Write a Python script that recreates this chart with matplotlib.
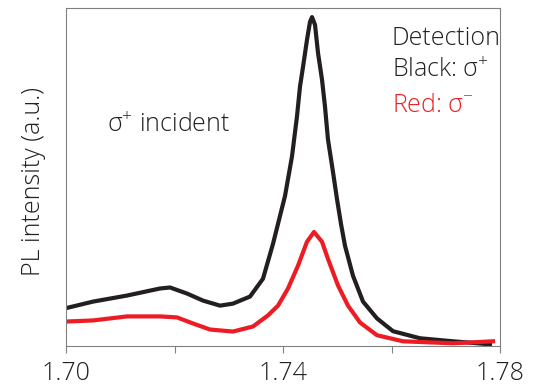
import matplotlib
matplotlib.use("Agg")
import matplotlib.pyplot as plt

plt.rcParams['font.family'] = ['Open Sans', 'DejaVu Sans']
plt.rcParams['font.weight'] = 'light'
plt.rcParams['mathtext.fontset'] = 'custom'
plt.rcParams['mathtext.rm'] = 'Open Sans:light'

# photon energy (eV) and PL intensity (a.u.)
black_e = [1.70037, 1.70498, 1.71124, 1.71733, 1.71917, 1.72230, 1.72525, 1.72839,
           1.73078, 1.73392, 1.73631, 1.73816, 1.74037, 1.74166, 1.74258, 1.74313,
           1.74369, 1.74442, 1.74498, 1.74535, 1.74590, 1.74645, 1.74719, 1.74774,
           1.74829, 1.74922, 1.74995, 1.75069, 1.75143, 1.75290, 1.75475, 1.75733,
           1.76028, 1.76525, 1.77133, 1.77815]
black_i = [0.109, 0.127, 0.145, 0.166, 0.169, 0.151, 0.130, 0.115,
           0.121, 0.142, 0.195, 0.299, 0.441, 0.559, 0.678, 0.766,
           0.825, 0.905, 0.959, 0.973, 0.950, 0.867, 0.787, 0.707,
           0.609, 0.512, 0.432, 0.358, 0.293, 0.204, 0.127, 0.077,
           0.039, 0.018, 0.009, 0.000]

red_e = [1.70037, 1.70498, 1.71124, 1.71733, 1.72046, 1.72341, 1.72654, 1.73078,
         1.73447, 1.73723, 1.73908, 1.74092, 1.74277, 1.74442, 1.74571, 1.74719,
         1.74829, 1.75014, 1.75198, 1.75327, 1.75419, 1.75733, 1.76212, 1.77133,
         1.77871]
red_i = [0.068, 0.071, 0.083, 0.083, 0.080, 0.062, 0.044, 0.038,
         0.053, 0.086, 0.115, 0.166, 0.234, 0.305, 0.334, 0.305,
         0.254, 0.175, 0.115, 0.086, 0.065, 0.027, 0.009, 0.003,
         0.009]

xticks = [1.70, 1.72, 1.74, 1.76, 1.78]
xticklabels = ['1.70', '', '1.74', '', '1.78']

dark = '#231f20'
red = '#ed1c24'

fig = plt.figure(figsize=(5.39, 3.88), dpi=100)
ax = fig.add_axes([66/539, 42/388, 434/539, 338/388])

ax.plot(black_e, black_i, color=dark, lw=3, solid_joinstyle='round')
ax.plot(red_e, red_i, color=red, lw=3, solid_joinstyle='round')

ax.set_xlim(1.70, 1.78)
ax.set_ylim(-0.005, 1.0)
ax.set_xticks(xticks)
ax.set_xticklabels(xticklabels)
ax.set_yticks([])
ax.tick_params(axis='x', direction='out', length=5, width=0.8, color='#808080',
               labelsize=18, labelcolor=dark, pad=6)
for s in ax.spines.values():
    s.set_color('#808080')
    s.set_linewidth(0.8)

fig.text(34/539, 0.533, 'PL intensity (a.u.)', rotation=90, ha='center', va='center',
         fontsize=18, color=dark)

ax.text(0.0945, 0.633, r'$\mathregular{σ^{+}}$ incident', transform=ax.transAxes,
        fontsize=18, color=dark, va='baseline')
ax.text(0.751, 0.89, 'Detection', transform=ax.transAxes, fontsize=18, color=dark,
        va='baseline')
ax.text(0.751, 0.796, r'Black: $\mathregular{σ^{+}}$', transform=ax.transAxes,
        fontsize=18, color=dark, va='baseline')
ax.text(0.751, 0.692, r'Red: $\mathregular{σ^{-}}$', transform=ax.transAxes,
        fontsize=18, color=red, va='baseline')

fig.savefig('out.png', dpi=100)
